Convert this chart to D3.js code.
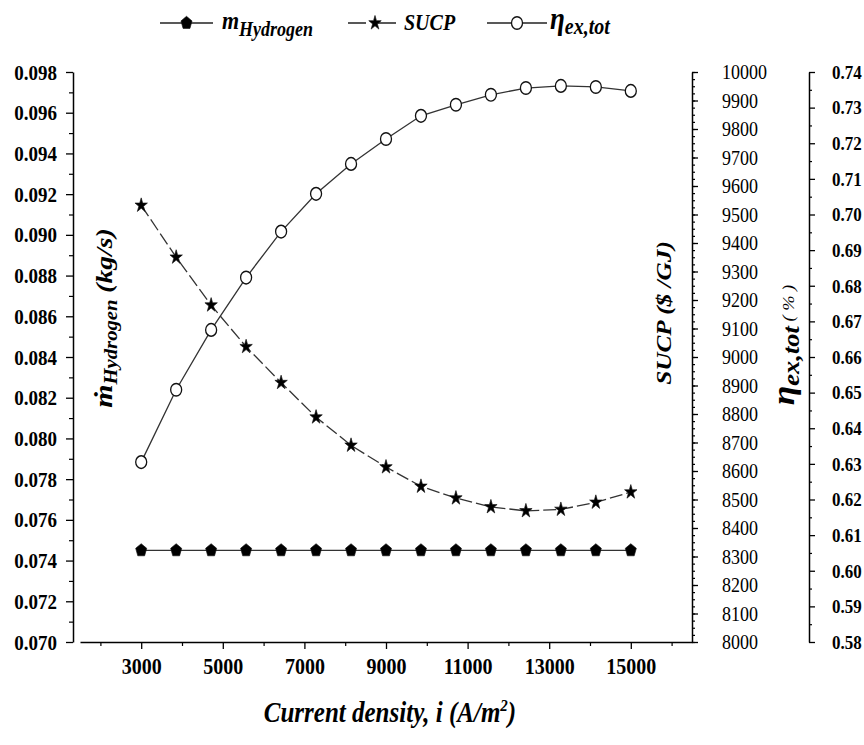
<!DOCTYPE html>
<html>
<head>
<meta charset="utf-8">
<script src="https://cdn.jsdelivr.net/npm/d3@7"></script>
<style>
  body { margin: 0; background: #fff; }
  text { font-family: "Liberation Serif", "Times New Roman", serif; }
</style>
</head>
<body>
<div id="chart"></div>
<script>
// valeurs
const currentDensity = [3000, 3857, 4714, 5571, 6429, 7286, 8143, 9000, 9857, 10714, 11571, 12429, 13286, 14143, 15000];
const hydrogenFlow = [0.0745, 0.0745, 0.0745, 0.0745, 0.0745, 0.0745, 0.0745, 0.0745, 0.0745, 0.0745, 0.0745, 0.0745, 0.0745, 0.0745, 0.0745];
const sucpValues = [9532, 9350, 9182, 9036, 8910, 8789, 8690, 8614, 8546, 8505, 8474, 8460, 8465, 8490, 8526];
const etaValues = [0.6305, 0.6508, 0.6676, 0.6823, 0.6952, 0.7058, 0.7142, 0.7212, 0.7277, 0.7308, 0.7336, 0.7355, 0.7361, 0.7358, 0.7347];

const xTicks = [3000, 5000, 7000, 9000, 11000, 13000, 15000];
const xMinorTicks = [2000, 4000, 6000, 8000, 10000, 12000, 14000, 16000];
const hTicks = d3.range(70, 99, 2).map(d => d / 1000);
const hMinorTicks = d3.range(71, 98, 2).map(d => d / 1000);
const sucpTicks = d3.range(8000, 10001, 100);
const sucpMinorTicks = d3.range(8000, 10001, 25);
const etaTicks = d3.range(58, 75).map(d => d / 100);
const etaMinorTicks = d3.range(58, 74).map(d => d / 100 + 0.005);

const width = 864, height = 745;
const plot = { left: 80, right: 692, top: 72, bottom: 642 };
const yAxisX = 73, etaAxisX = 809;
const stretch = "scale(1,1.15)";

const svg = d3.select("#chart").append("svg")
    .attr("width", width)
    .attr("height", height);

// échelles
const x = d3.scaleLinear().domain([1500, 16500]).range([plot.left, plot.right]);
const yH = d3.scaleLinear().domain([0.070, 0.098]).range([plot.bottom, plot.top]);
const yS = d3.scaleLinear().domain([8000, 10000]).range([plot.bottom, plot.top]);
const yE = d3.scaleLinear().domain([0.58, 0.74]).range([plot.bottom, plot.top]);

function styleAxis(g, size, weight) {
    g.select(".domain").attr("stroke", "#000").attr("stroke-width", 1.5);
    g.selectAll(".tick line").attr("stroke", "#000").attr("stroke-width", 1.3);
    g.selectAll(".tick text")
        .attr("font-family", '"Liberation Serif", "Times New Roman", serif')
        .attr("font-size", size)
        .attr("font-weight", weight)
        .attr("fill", "#000")
        .attr("transform", stretch);
}

function minorAxis(g) {
    g.select(".domain").remove();
    g.selectAll(".tick line").attr("stroke", "#000").attr("stroke-width", 1.2);
}

// axe x
svg.append("g")
    .attr("transform", `translate(0,${plot.bottom})`)
    .call(d3.axisBottom(x).tickValues(xMinorTicks).tickSize(4).tickFormat(""))
    .call(minorAxis);
svg.append("g")
    .attr("transform", `translate(0,${plot.bottom})`)
    .call(d3.axisBottom(x).tickValues(xTicks).tickSize(7).tickSizeOuter(0).tickPadding(7).tickFormat(d3.format("d")))
    .call(g => styleAxis(g, 20, "bold"));

// axe gauche (débit d'hydrogène)
svg.append("g")
    .attr("transform", `translate(${yAxisX},0)`)
    .call(d3.axisLeft(yH).tickValues(hMinorTicks).tickSize(4).tickFormat(""))
    .call(minorAxis);
svg.append("g")
    .attr("transform", `translate(${yAxisX},0)`)
    .call(d3.axisLeft(yH).tickValues(hTicks).tickSize(7).tickSizeOuter(0).tickPadding(9).tickFormat(d3.format(".3f")))
    .call(g => styleAxis(g, 19, "bold"));

// axe SUCP
svg.append("g")
    .attr("transform", `translate(${plot.right},0)`)
    .call(d3.axisRight(yS).tickValues(sucpMinorTicks).tickSize(3).tickFormat(""))
    .call(minorAxis);
svg.append("g")
    .attr("transform", `translate(${plot.right},0)`)
    .call(d3.axisRight(yS).tickValues(sucpTicks).tickSize(6).tickSizeOuter(0).tickPadding(24).tickFormat(d3.format("d")))
    .call(g => styleAxis(g, 18, "normal"));

// axe rendement exergétique
svg.append("g")
    .attr("transform", `translate(${etaAxisX},0)`)
    .call(d3.axisRight(yE).tickValues(etaMinorTicks).tickSize(3).tickFormat(""))
    .call(minorAxis);
svg.append("g")
    .attr("transform", `translate(${etaAxisX},0)`)
    .call(d3.axisRight(yE).tickValues(etaTicks).tickSize(6).tickSizeOuter(0).tickPadding(17).tickFormat(d3.format(".2f")))
    .call(g => styleAxis(g, 17, "bold"));

// symboles
const pentagon = {
    draw(context, size) {
        const r = Math.sqrt(size / 2.378);
        for (let i = 0; i < 5; i++) {
            const a = -Math.PI / 2 + i * 2 * Math.PI / 5;
            if (i === 0) context.moveTo(r * Math.cos(a), r * Math.sin(a));
            else context.lineTo(r * Math.cos(a), r * Math.sin(a));
        }
        context.closePath();
    }
};

const series = [
    { name: "h", values: hydrogenFlow, y: yH, symbol: pentagon, size: 80, fill: "#000", dash: null },
    { name: "s", values: sucpValues, y: yS, symbol: d3.symbolStar, size: 48, fill: "#000", dash: "13,4" },
    { name: "e", values: etaValues, y: yE, symbol: d3.symbolCircle, size: 95, fill: "#fff", dash: null }
];

series.forEach(function(s) {
    const pts = currentDensity.map((c, i) => [x(c), s.y(s.values[i])]);
    svg.append("path")
        .datum(pts)
        .attr("fill", "none")
        .attr("stroke", "#333")
        .attr("stroke-width", 1.3)
        .attr("stroke-dasharray", s.dash)
        .attr("d", d3.line());
    svg.append("g")
        .selectAll("path")
        .data(pts)
        .join("path")
        .attr("transform", d => `translate(${d[0]},${d[1]}) ${stretch}`)
        .attr("d", d3.symbol(s.symbol, s.size))
        .attr("fill", s.fill)
        .attr("stroke", "#111")
        .attr("stroke-width", s.fill === "#fff" ? 1.3 : 0.6);
});

// légende
const legendY = 23;
const legendItems = [
    { x0: 160, x1: 213, symbol: pentagon, size: 80, fill: "#000", dash: null },
    { x0: 348, x1: 402, symbol: d3.symbolStar, size: 48, fill: "#000", dash: "18,12" },
    { x0: 487, x1: 547, symbol: d3.symbolCircle, size: 95, fill: "#fff", dash: null }
];
legendItems.forEach(function(d) {
    svg.append("line")
        .attr("x1", d.x0).attr("x2", d.x1)
        .attr("y1", legendY).attr("y2", legendY)
        .attr("stroke", "#222").attr("stroke-width", 1.5)
        .attr("stroke-dasharray", d.dash);
    svg.append("path")
        .attr("transform", `translate(${(d.x0 + d.x1) / 2},${legendY}) ${stretch}`)
        .attr("d", d3.symbol(d.symbol, d.size))
        .attr("fill", d.fill)
        .attr("stroke", "#111")
        .attr("stroke-width", d.fill === "#fff" ? 1.3 : 0.6);
});

const lt1 = svg.append("text")
    .attr("transform", `translate(222,29) ${stretch}`)
    .attr("font-weight", "bold").attr("font-style", "italic");
lt1.append("tspan").attr("font-size", 22).text("m");
lt1.append("tspan").attr("font-size", 18).attr("dy", 6).text("Hydrogen");

svg.append("text")
    .attr("transform", `translate(404,30) ${stretch}`)
    .attr("font-weight", "bold").attr("font-style", "italic")
    .attr("font-size", 20)
    .text("SUCP");

const lt3 = svg.append("text")
    .attr("transform", `translate(550,29) ${stretch}`)
    .attr("font-weight", "bold").attr("font-style", "italic");
lt3.append("tspan").attr("font-size", 27).text("η");
lt3.append("tspan").attr("font-size", 20).attr("dy", 4).text("ex,tot");

// titres des axes
const tH = svg.append("text")
    .attr("transform", "translate(112,318) rotate(-90) scale(1.15,1)")
    .attr("text-anchor", "middle")
    .attr("font-weight", "bold").attr("font-style", "italic");
tH.append("tspan").attr("font-size", 26).text("ṁ");
tH.append("tspan").attr("font-size", 18).attr("dy", 5).text("Hydrogen");
tH.append("tspan").attr("font-size", 24).attr("dy", -5).text(" (kg/s)");

svg.append("text")
    .attr("transform", "translate(671,313) rotate(-90) scale(1.15,1)")
    .attr("text-anchor", "middle")
    .attr("font-weight", "bold").attr("font-style", "italic")
    .attr("font-size", 22)
    .text("SUCP ($ /GJ)");

const tE = svg.append("text")
    .attr("transform", "translate(794,345) rotate(-90) scale(1.15,1)")
    .attr("text-anchor", "middle")
    .attr("font-style", "italic");
tE.append("tspan").attr("font-size", 31).attr("font-weight", "bold").text("η");
tE.append("tspan").attr("font-size", 23).attr("font-weight", "bold").attr("dy", 5).text("ex,tot");
tE.append("tspan").attr("font-size", 16).attr("dy", -5).text(" ( % )");

const tX = svg.append("text")
    .attr("transform", `translate(390,722) ${stretch}`)
    .attr("text-anchor", "middle")
    .attr("font-weight", "bold").attr("font-style", "italic")
    .attr("font-size", 25);
tX.append("tspan").text("Current density, i (A/m");
tX.append("tspan").attr("font-size", 15).attr("dy", -10).text("2");
tX.append("tspan").attr("dy", 10).text(")");
</script>
</body>
</html>
